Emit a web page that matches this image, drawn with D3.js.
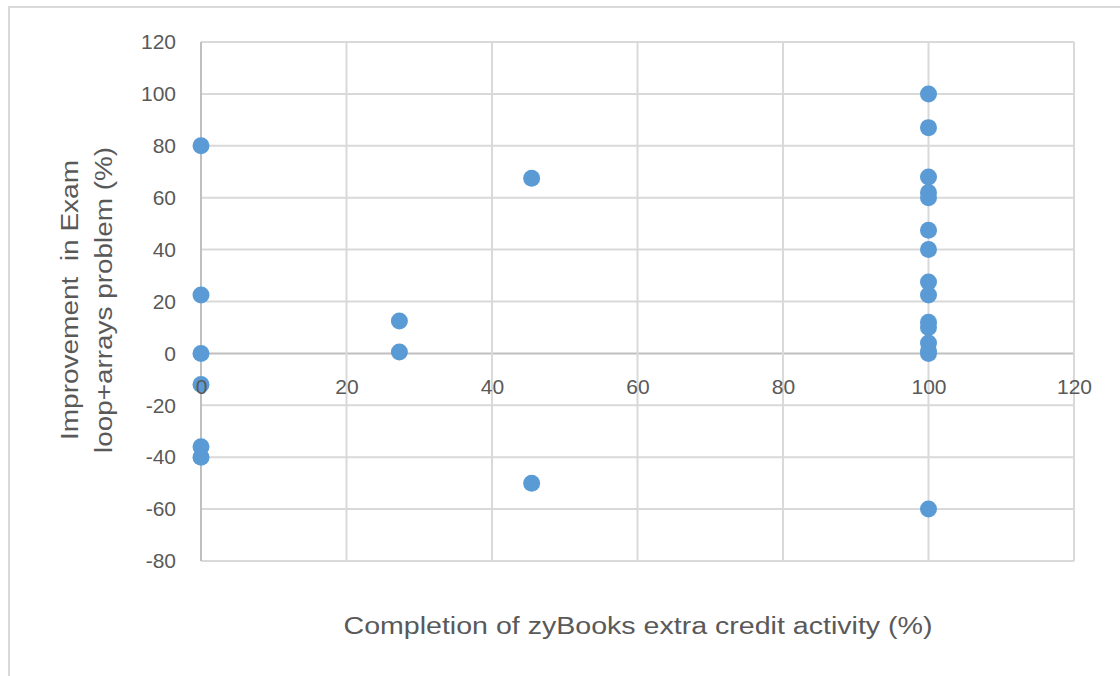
<!DOCTYPE html>
<html>
<head>
<meta charset="utf-8">
<script src="https://cdn.jsdelivr.net/npm/d3@7"></script>
<style>
  html, body { margin: 0; padding: 0; background: #fff; }
  svg { display: block; }
  text { font-family: "Liberation Sans", "DejaVu Sans", sans-serif; fill: #595959; }
</style>
</head>
<body>
<svg id="chart" width="1120" height="676"></svg>
<script>
// Completion of the extra credit activity (%) for each student
const completion = [
  0, 0, 0, 0, 0, 0,
  27.27, 27.27,
  45.45, 45.45,
  100, 100, 100, 100, 100, 100, 100, 100, 100, 100, 100, 100, 100, 100, 100
];
// Improvement on the loop+arrays exam problem (%)
const improvement = [
  80, 22.5, 0, -12, -36, -40,
  12.5, 0.5,
  67.5, -50,
  100, 87, 68, 62, 60, 47.5, 40, 27.5, 22.5, 12, 10, 4, 1, 0, -60
];
const xTicks = [0, 20, 40, 60, 80, 100, 120];
const yTicks = [120, 100, 80, 60, 40, 20, 0, -20, -40, -60, -80];

const xTitle = "Completion of zyBooks extra credit activity (%)";
const yTitleLines = ["Improvement  in Exam", "loop+arrays problem (%)"];

const svg = d3.select("#chart");

// Outer chart frame
svg.append("path")
  .attr("d", "M9,676 V7 H1120")
  .attr("fill", "none")
  .attr("stroke", "#d9d9d9")
  .attr("stroke-width", 2);

const plot = { left: 201, right: 1074, top: 42, bottom: 561 };

const x = d3.scaleLinear().domain([0, 120]).range([plot.left, plot.right]);
const y = d3.scaleLinear().domain([-80, 120]).range([plot.bottom, plot.top]);

// Gridlines
const grid = svg.append("g");
grid.selectAll("line.h").data(yTicks).join("line")
  .attr("x1", plot.left).attr("x2", plot.right)
  .attr("y1", d => y(d)).attr("y2", d => y(d))
  .attr("stroke", d => d === 0 ? "#bfbfbf" : "#d9d9d9")
  .attr("stroke-width", 2);
grid.selectAll("line.v").data(xTicks).join("line")
  .attr("y1", plot.top).attr("y2", plot.bottom)
  .attr("x1", d => x(d)).attr("x2", d => x(d))
  .attr("stroke", d => d === 0 ? "#bfbfbf" : "#d9d9d9")
  .attr("stroke-width", 2);

// Data points
svg.append("g").selectAll("circle")
  .data(completion.map((c, i) => [c, improvement[i]]))
  .join("circle")
  .attr("cx", d => x(d[0]))
  .attr("cy", d => y(d[1]))
  .attr("r", 8.5)
  .attr("fill", "#5b9bd5");

const plain = d => String(d);

// Y-axis tick labels
const yAxis = d3.axisLeft(y).tickValues(yTicks).tickFormat(plain).tickSize(0).tickPadding(0);
const gy = svg.append("g")
  .attr("transform", `translate(176,0)`)
  .call(yAxis);
gy.select(".domain").remove();
gy.selectAll("text")
  .attr("font-size", 21)
  .attr("fill", "#595959")
  .attr("font-family", "Liberation Sans, DejaVu Sans, sans-serif");

// X-axis tick labels, placed under the zero line
const xAxis = d3.axisBottom(x).tickValues(xTicks).tickFormat(plain).tickSize(0).tickPadding(0);
const gx = svg.append("g")
  .attr("transform", `translate(0,${y(0) + 35})`)
  .call(xAxis);
gx.select(".domain").remove();
gx.selectAll("text")
  .attr("font-size", 21)
  .attr("fill", "#595959")
  .attr("dy", "0")
  .attr("font-family", "Liberation Sans, DejaVu Sans, sans-serif")
  .attr("dominant-baseline", "middle");

// Axis titles
svg.append("text")
  .attr("x", 638).attr("y", 634)
  .attr("text-anchor", "middle")
  .attr("font-size", 23)
  .attr("textLength", 589)
  .attr("lengthAdjust", "spacingAndGlyphs")
  .text(xTitle);

const yTitle = svg.append("text")
  .attr("transform", "translate(78,300) rotate(-90)")
  .attr("text-anchor", "middle")
  .attr("font-size", 23);
yTitle.append("tspan").attr("x", 0).attr("y", 0)
  .attr("textLength", 280).attr("lengthAdjust", "spacingAndGlyphs")
  .style("white-space", "pre")
  .text(yTitleLines[0]);
yTitle.append("tspan").attr("x", 0).attr("y", 34)
  .attr("textLength", 306).attr("lengthAdjust", "spacingAndGlyphs")
  .text(yTitleLines[1]);
</script>
</body>
</html>
